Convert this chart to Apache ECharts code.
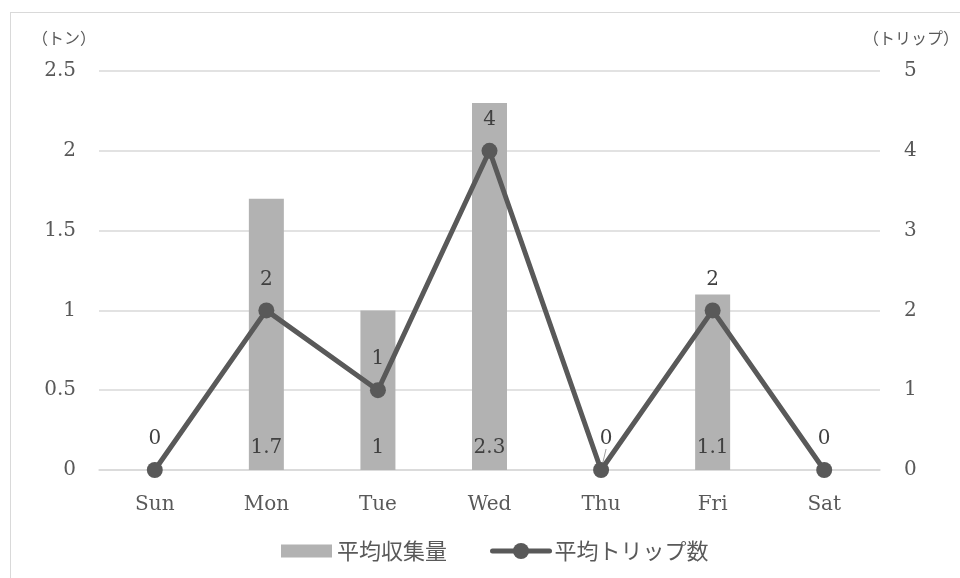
<!DOCTYPE html>
<html>
<head>
<meta charset="utf-8">
<script src="https://cdn.jsdelivr.net/npm/echarts@6/dist/echarts.min.js"></script>
<style>
  html, body { margin: 0; padding: 0; background: #fff; overflow: hidden; }
  #frame { position: absolute; left: 10px; top: 12px; width: 960px; height: 580px; border: 1px solid #d9d9d9; box-sizing: border-box; }
  #chart { position: absolute; left: 0; top: 0; width: 960px; height: 578px; }
</style>
</head>
<body>
<div id="frame"></div>
<div id="chart"></div>
<script>
// Days of the week
const days = ['Sun', 'Mon', 'Tue', 'Wed', 'Thu', 'Fri', 'Sat'];
// Average collected amount (tons) per day
const avgCollected = [0, 1.7, 1, 2.3, 0, 1.1, 0];
// Average number of trips per day
const avgTrips = [0, 2, 1, 4, 0, 2, 0];
// Day whose trip label is nudged aside with a leader line
const nudgedDay = 'Thu';

const serif = '"DejaVu Serif", "Liberation Serif", serif';
const cjk = '"Noto Sans CJK JP", sans-serif';
const axisText = '#595959';
const gridColor = '#d9d9d9';
const lineColor = '#595959';
const barColor = '#b2b2b2';

const chart = echarts.init(document.getElementById('chart'), null, { renderer: 'canvas' });

const tripData = avgTrips.map((v, i) => days[i] === nudgedDay
  ? { value: v, labelLine: { show: true } }
  : v);

const legendText = { fontFamily: cjk, fontSize: 22, color: axisText };

chart.setOption({
  animation: false,
  grid: { left: 99, right: 80, top: 71, bottom: 108, outerBoundsMode: 'none' },
  legend: [
    {
      left: 276,
      top: 535,
      itemWidth: 51,
      itemHeight: 13,
      textStyle: legendText,
      data: [{ name: '平均収集量', icon: 'rect' }]
    },
    {
      left: 485,
      top: 535,
      itemWidth: 57,
      itemHeight: 20,
      textStyle: legendText,
      lineStyle: { width: 5, cap: 'round' },
      data: [{ name: '平均トリップ数' }]
    }
  ],
  xAxis: {
    type: 'category',
    data: days,
    axisLine: { lineStyle: { color: gridColor, width: 1.5 } },
    axisTick: { show: false },
    axisLabel: { color: axisText, fontFamily: serif, fontSize: 20, margin: 25 }
  },
  yAxis: [
    {
      type: 'value',
      min: 0, max: 2.5, interval: 0.5,
      name: '（トン）',
      nameLocation: 'end',
      nameGap: 25,
      nameTextStyle: { fontFamily: cjk, fontSize: 16, color: axisText, align: 'center', padding: [0, 70, 0, 0] },
      axisLine: { show: false },
      axisTick: { show: false },
      axisLabel: { color: axisText, fontFamily: serif, fontSize: 20, margin: 23 },
      splitLine: { lineStyle: { color: gridColor, width: 1.5 } }
    },
    {
      type: 'value',
      min: 0, max: 5, interval: 1,
      name: '（トリップ）',
      nameLocation: 'end',
      nameGap: 25,
      nameTextStyle: { fontFamily: cjk, fontSize: 16, color: axisText, align: 'center', padding: [0, 0, 0, 62] },
      axisLine: { show: false },
      axisTick: { show: false },
      axisLabel: { color: axisText, fontFamily: serif, fontSize: 20, margin: 24 },
      splitLine: { show: false }
    }
  ],
  series: [
    {
      name: '平均収集量',
      type: 'bar',
      yAxisIndex: 0,
      data: avgCollected,
      barWidth: 35,
      itemStyle: { color: barColor },
      label: {
        show: true,
        position: 'insideBottom',
        distance: 12,
        fontFamily: serif,
        fontSize: 20,
        color: '#404040',
        formatter: p => (p.value === 0 ? '' : String(p.value))
      }
    },
    {
      name: '平均トリップ数',
      type: 'line',
      yAxisIndex: 1,
      data: tripData,
      symbol: 'circle',
      symbolSize: 16,
      lineStyle: { color: lineColor, width: 5 },
      itemStyle: { color: lineColor },
      label: {
        show: true,
        position: 'top',
        distance: 13,
        fontFamily: serif,
        fontSize: 20,
        color: '#404040'
      },
      labelLine: { show: false, lineStyle: { color: '#a0a0a0', width: 1 } },
      labelLayout: p => (days[p.dataIndex] === nudgedDay ? { dx: 5 } : {}),
      z: 3
    }
  ]
});
</script>
</body>
</html>
